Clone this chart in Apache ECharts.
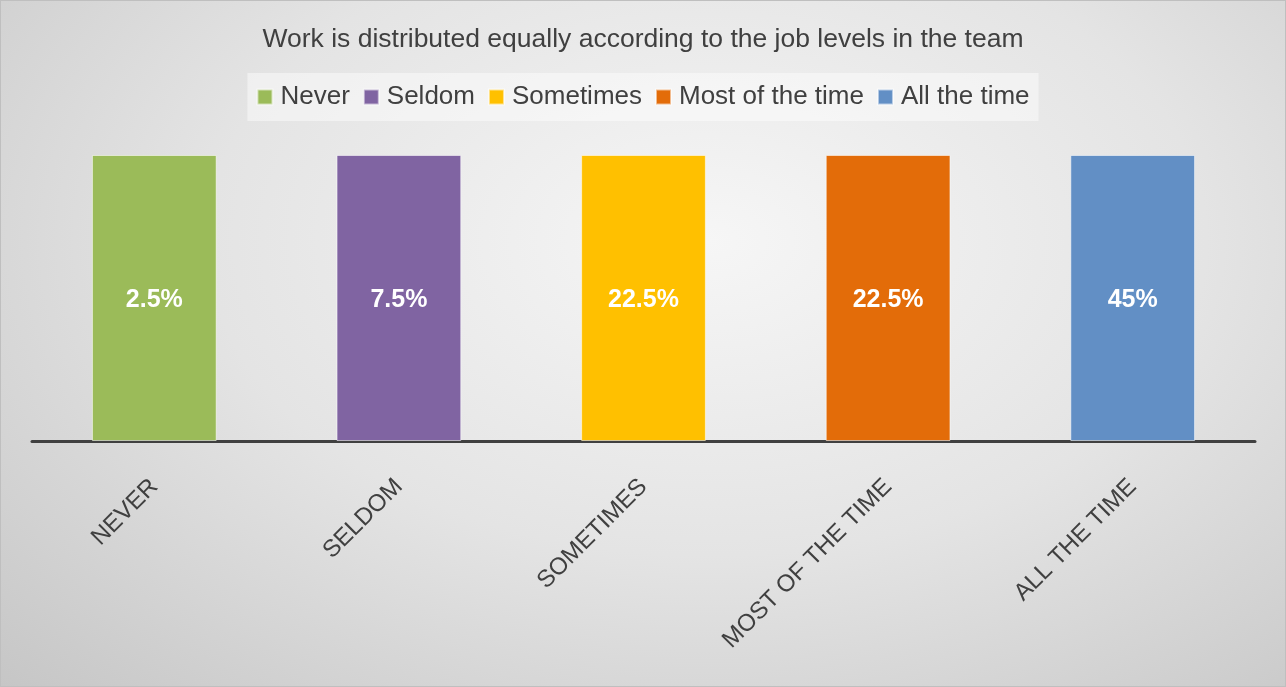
<!DOCTYPE html>
<html>
<head>
<meta charset="utf-8">
<script src="https://cdn.jsdelivr.net/npm/echarts@6/dist/echarts.min.js"></script>
<style>
  html, body { margin: 0; padding: 0; }
  #chart {
    width: 1284px; height: 685px;
    border: 1px solid #bfbfbf;
    background: radial-gradient(ellipse at 55% 35%, #f6f6f6 0%, #e4e4e4 50%, #c6c6c6 100%);
  }
</style>
</head>
<body>
<div id="chart"></div>
<script>
// categories and values
var categories = ['NEVER', 'SELDOM', 'SOMETIMES', 'MOST OF THE TIME', 'ALL THE TIME'];
var seriesNames = ['Never', 'Seldom', 'Sometimes', 'Most of the time', 'All the time'];
var percentLabels = ['2.5%', '7.5%', '22.5%', '22.5%', '45%'];
var barShare = [100, 100, 100, 100, 100];   // every column is full (100%)
var colors = ['#9bbb59', '#8064a2', '#ffc000', '#e36c09', '#628fc5'];

var myChart = echarts.init(document.getElementById('chart'));

var series = seriesNames.map(function (name, i) {
    var data = categories.map(function (c, j) { return j === i ? barShare[j] : '-'; });
    return {
        name: name,
        type: 'bar',
        stack: 'all',
        barWidth: '51%',
        data: data,
        itemStyle: {
            color: colors[i],
            borderColor: 'rgba(255,255,255,0.55)',
            borderWidth: 1
        },
        label: {
            show: true,
            position: 'inside',
            offset: [0, 2],
            color: '#fff',
            fontWeight: 'bold',
            fontSize: 25,
            fontFamily: 'Liberation Sans',
            formatter: function () { return percentLabels[i]; }
        }
    };
});

var option = {
    title: {
        text: 'Work is distributed equally according to the job levels in the team',
        left: 'center',
        top: 20,
        textStyle: { color: '#404040', fontSize: 26.5, fontWeight: 'normal', fontFamily: 'Liberation Sans' }
    },
    legend: {
        data: seriesNames,
        top: 72,
        left: 'center',
        icon: 'rect',
        itemWidth: 15,
        itemHeight: 15,
        itemGap: 13,
        padding: [11, 9, 11, 9],
        backgroundColor: 'rgba(255,255,255,0.45)',
        textStyle: { color: '#404040', fontSize: 26, fontFamily: 'Liberation Sans', padding: [0, 0, 0, 3] }
    },
    grid: { left: 31, right: 30, top: 154, bottom: 245 },
    xAxis: {
        type: 'category',
        data: categories,
        axisLine: { lineStyle: { color: '#404040', width: 3 } },
        axisTick: { show: false },
        axisLabel: {
            rotate: 45,
            interval: 0,
            margin: 42,
            color: '#404040',
            fontSize: 24,
            fontFamily: 'Liberation Sans'
        }
    },
    yAxis: {
        type: 'value',
        min: 0,
        max: 100,
        show: false
    },
    series: series
};
myChart.setOption(option);
</script>
</body>
</html>
